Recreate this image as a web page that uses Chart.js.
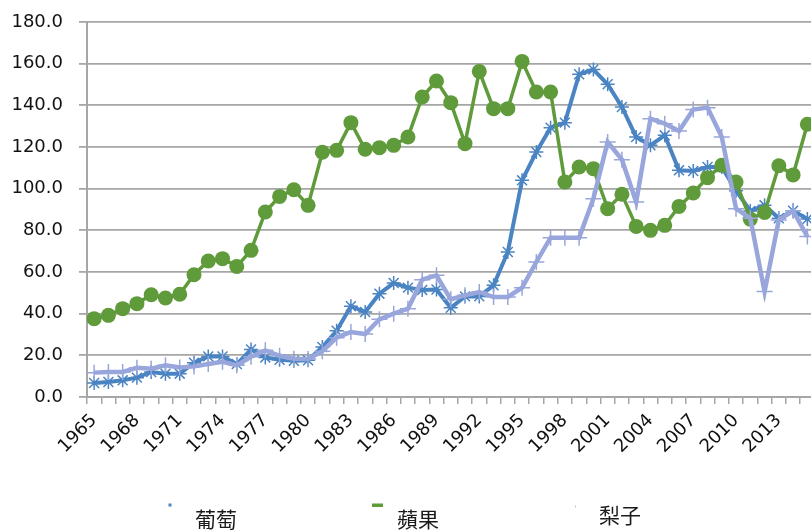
<!DOCTYPE html>
<html>
<head>
<meta charset="utf-8">
<script src="https://cdn.jsdelivr.net/npm/chart.js@4"></script>
<style>
  html, body { margin: 0; padding: 0; background: #fff; overflow: hidden; }
  #wrap { position: relative; width: 811px; height: 530px; overflow: hidden; }
  canvas { display: block; }
</style>
</head>
<body>
<div id="wrap"><canvas id="c" width="824" height="530"></canvas></div>
<script>
// ---- data ----
const years = [];
for (let y = 1965; y <= 2015; y++) years.push(String(y));

const seriesNames = ['葡萄', '蘋果', '梨子'];

const grape = [6.7, 7.2, 8.0, 9.3, 12.0, 11.2, 11.2, 16.5, 19.5, 19.5, 15.8, 22.8, 19.0, 17.9, 17.4, 17.6, 24.0,
  31.8, 43.6, 40.8, 49.6, 54.7, 52.5, 51.4, 51.6, 42.8, 48.3, 48.3, 53.6, 69.6, 104.0, 117.6, 129.3, 131.7,
  154.9, 157.2, 150.1, 139.2, 124.8, 120.8, 125.6, 108.8, 108.5, 110.4, 110.4, 99.0, 89.3, 92.0, 85.8, 89.4, 85.4];

const apple = [37.6, 39.2, 42.4, 44.8, 49.1, 47.5, 49.3, 58.7, 65.3, 66.4, 62.7, 70.4, 88.8, 96.3, 99.5, 92.0, 117.5,
  118.4, 131.7, 118.9, 119.7, 120.8, 124.8, 144.0, 151.7, 141.3, 121.6, 156.3, 138.4, 138.4, 161.1, 146.4, 146.4,
  103.2, 110.4, 109.6, 90.4, 97.3, 81.9, 80.0, 82.4, 91.5, 97.9, 105.3, 111.2, 103.2, 85.4, 88.6, 111.0, 106.6, 130.9];

const pear = [11.7, 12.0, 12.0, 14.0, 13.6, 15.2, 14.2, 14.7, 15.8, 16.9, 15.2, 19.3, 22.4, 19.8, 18.4, 18.2, 22.0,
  28.5, 31.2, 30.2, 37.3, 40.0, 42.4, 56.3, 58.4, 46.9, 48.8, 50.4, 48.0, 48.0, 52.5, 64.8, 76.5, 76.5, 76.5,
  95.2, 122.4, 113.9, 93.6, 133.6, 131.2, 127.7, 138.0, 138.9, 124.8, 90.4, 85.8, 50.6, 85.0, 89.4, 77.0];

const yTicks = { min: 0, max: 180, step: 20 };

// ---- styles ----
const GRAPE = '#4a84c2';
const APPLE = '#5f9a3b';
const PEAR = '#98a6dc';
const GRID = '#a6a6a6';
const NUMFONT = 'DejaVu Sans';

// legend drawn at the bottom from the dataset labels
const bottomLegend = {
  id: 'bottomLegend',
  afterDraw(chart) {
    const ctx = chart.ctx;
    const startX = 170, gap = 202, markY = 505;
    ctx.save();
    chart.data.datasets.forEach((ds) => {
      const idx = ds.legendIndex;
      const x0 = startX + gap * idx;
      ctx.fillStyle = ds.borderColor;
      if (idx === 0) ctx.fillRect(x0 - 1.5, markY - 1.5, 3, 3);
      else if (idx === 1) ctx.fillRect(x0, markY - 1.5, 11, 3.5);
      else { ctx.fillStyle = 'rgba(152,166,220,0.5)'; ctx.fillRect(x0 + 1, markY, 1, 3); }
      ctx.fillStyle = '#1a1a1a';
      ctx.font = '21px "Noto Sans CJK TC"';
      ctx.textAlign = 'left';
      ctx.textBaseline = 'middle';
      const ty = idx === 2 ? 515 : 519;
      ctx.fillText(ds.label, x0 + 25, ty);
    });
    ctx.restore();
  }
};

new Chart(document.getElementById('c'), {
  type: 'line',
  data: {
    labels: years,
    datasets: [
      {
        label: seriesNames[0], legendIndex: 0, data: grape, order: 3,
        borderColor: GRAPE, backgroundColor: GRAPE, borderWidth: 4,
        pointStyle: 'star', pointRadius: 7, pointBorderWidth: 1.5,
        pointBorderColor: GRAPE, tension: 0
      },
      {
        label: seriesNames[1], legendIndex: 1, data: apple, order: 2,
        borderColor: APPLE, backgroundColor: APPLE, borderWidth: 3.5,
        pointStyle: 'circle', pointRadius: 7.5, pointBorderWidth: 0,
        pointBackgroundColor: APPLE, tension: 0
      },
      {
        label: seriesNames[2], legendIndex: 2, data: pear, order: 1,
        borderColor: PEAR, backgroundColor: PEAR, borderWidth: 4.5,
        pointStyle: 'cross', pointRadius: 8, pointBorderWidth: 1.5,
        pointBorderColor: PEAR, tension: 0
      }
    ]
  },
  options: {
    responsive: false,
    animation: false,
    layout: { padding: { top: 22, left: 0, right: 0, bottom: 0 } },
    plugins: { legend: { display: false }, tooltip: { enabled: false } },
    scales: {
      x: {
        offset: true,
        grid: { display: true, drawOnChartArea: false, drawTicks: true, tickLength: 7, offset: true, color: GRID, lineWidth: 1.5 },
        border: { color: GRID, width: 2 },
        ticks: {
          autoSkip: false, minRotation: 45, maxRotation: 45, padding: 6,
          color: '#111', font: { family: NUMFONT, size: 18 },
          callback: (v, i) => (i % 3 === 0 ? years[i] : '')
        },
        afterFit: (s) => { s.height = 133; s.paddingLeft = 0; s.paddingRight = 0; }
      },
      y: {
        min: yTicks.min, max: yTicks.max,
        grid: { color: GRID, lineWidth: 1.8, tickLength: 8, drawTicks: true },
        border: { color: GRID, width: 2 },
        ticks: {
          stepSize: yTicks.step, padding: 16, color: '#111',
          font: { family: NUMFONT, size: 18 },
          callback: (v) => Number(v).toFixed(1)
        },
        afterFit: (s) => { s.width = 87; s.paddingTop = 0; s.paddingBottom = 0; }
      }
    }
  },
  plugins: [bottomLegend]
});
</script>
</body>
</html>
